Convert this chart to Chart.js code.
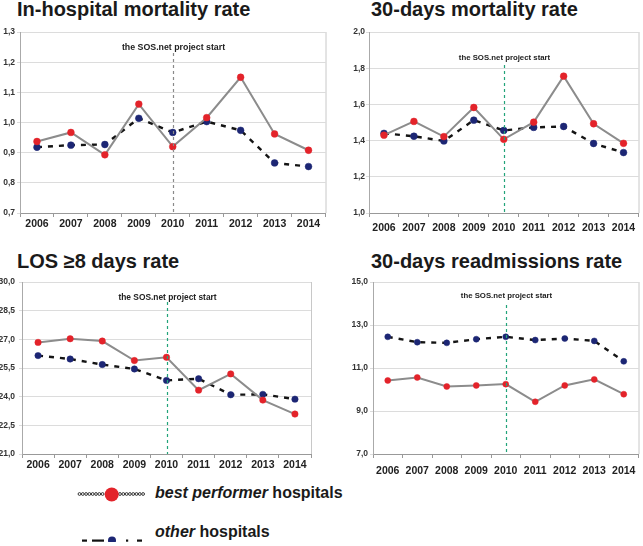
<!DOCTYPE html>
<html>
<head>
<meta charset="utf-8">
<script src="https://cdn.jsdelivr.net/npm/chart.js@4"></script>
<style>
  body { margin: 0; background: #fff; font-family: "Liberation Sans", Arial, sans-serif; }
  #page { position: relative; width: 643px; height: 546px; overflow: hidden; }
  canvas { position: absolute; }
  .title { position: absolute; font-weight: bold; font-size: 20px; line-height: 20px; color: #1a1a1a; white-space: nowrap; }
  .leg { position: absolute; font-weight: bold; font-size: 16px; line-height: 16px; color: #1a1a1a; white-space: nowrap; }
  svg { position: absolute; }
</style>
</head>
<body>
<div id="page">
  <div class="title" style="left:17px;top:-1px">In-hospital mortality rate</div>
  <div class="title" style="left:371px;top:-1px">30-days mortality rate</div>
  <div class="title" style="left:17px;top:251px">LOS ≥8 days rate</div>
  <div class="title" style="left:371px;top:251px">30-days readmissions rate</div>

  <canvas id="c1" width="330" height="225" style="left:0;top:20px"></canvas>
  <canvas id="c2" width="313" height="225" style="left:330px;top:20px"></canvas>
  <canvas id="c3" width="322" height="210" style="left:0;top:272px"></canvas>
  <canvas id="c4" width="313" height="210" style="left:330px;top:272px"></canvas>

  <svg width="80" height="60" style="left:70px;top:482px">
    <g fill="#fff" stroke="#222" stroke-width="0.9">
      <circle cx="9.5" cy="12" r="1.4"/><circle cx="12.8" cy="12" r="1.4"/><circle cx="16.1" cy="12" r="1.4"/>
      <circle cx="19.4" cy="12" r="1.4"/><circle cx="22.7" cy="12" r="1.4"/><circle cx="26" cy="12" r="1.4"/>
      <circle cx="29.3" cy="12" r="1.4"/><circle cx="32.6" cy="12" r="1.4"/>
      <circle cx="50" cy="12" r="1.4"/><circle cx="53.3" cy="12" r="1.4"/><circle cx="56.6" cy="12" r="1.4"/>
      <circle cx="59.9" cy="12" r="1.4"/><circle cx="63.2" cy="12" r="1.4"/><circle cx="66.5" cy="12" r="1.4"/>
      <circle cx="69.8" cy="12" r="1.4"/><circle cx="73.1" cy="12" r="1.4"/>
    </g>
    <circle cx="41.7" cy="12.5" r="7" fill="#e3232a"/>
    <g fill="#111">
      <rect x="12" y="57.5" width="5" height="2.2"/>
      <rect x="22" y="57.5" width="12" height="2.2"/>
      <rect x="56" y="57.5" width="2.2" height="2.2"/>
      <rect x="67" y="57.5" width="5" height="2.2"/>
    </g>
    <circle cx="42" cy="58.5" r="4" fill="#1c2674"/>
  </svg>
  <div class="leg" style="left:155px;top:485px"><i>best performer</i> hospitals</div>
  <div class="leg" style="left:155px;top:524px"><i>other</i> hospitals</div>
</div>

<script>
const years = ["2006", "2007", "2008", "2009", "2010", "2011", "2012", "2013", "2014"];
const projectStart = "2010";
const projectLabel = "the SOS.net project start";

const inhospBest = [0.937, 0.967, 0.893, 1.061, 0.920, 1.016, 1.150, 0.962, 0.908];
const inhospOther = [0.918, 0.925, 0.927, 1.014, 0.967, 1.003, 0.974, 0.866, 0.854];
const inhospTicks = [0.7, 0.8, 0.9, 1.0, 1.1, 1.2, 1.3];

const mort30Best = [1.430, 1.506, 1.422, 1.583, 1.407, 1.502, 1.756, 1.493, 1.385];
const mort30Other = [1.440, 1.424, 1.398, 1.513, 1.456, 1.473, 1.478, 1.384, 1.334];
const mort30Ticks = [1.0, 1.2, 1.4, 1.6, 1.8, 2.0];

const losBest = [26.84, 27.03, 26.91, 25.89, 26.06, 24.34, 25.19, 23.82, 23.09];
const losOther = [26.15, 25.97, 25.68, 25.45, 24.85, 24.94, 24.10, 24.12, 23.87];
const losTicks = [21.0, 22.5, 24.0, 25.5, 27.0, 28.5, 30.0];

const readmBest = [10.42, 10.56, 10.14, 10.19, 10.25, 9.43, 10.19, 10.47, 9.78];
const readmOther = [12.45, 12.20, 12.17, 12.34, 12.45, 12.30, 12.37, 12.26, 11.31];
const readmTicks = [7.0, 9.0, 11.0, 13.0, 15.0];

const FONT = '"Liberation Sans", Arial, sans-serif';

// per-chart marker settings, looked up by canvas id
const markerStyle = {
  c1: { stroke: "#8a8a8a", size: 8.8, textY: 16, lineFrom: 21 },
  c2: { stroke: "#22a37a", size: 7.8, textY: 25.7, lineFrom: 33 },
  c3: { stroke: "#22a37a", size: 8.4, textY: 16, lineFrom: 20 },
  c4: { stroke: "#22a37a", size: 7.8, textY: 14, lineFrom: 23 },
};

// dashed start-of-project marker + right frame line
const startLine = {
  id: "startLine",
  afterDatasetsDraw(chart) {
    const o = markerStyle[chart.canvas.id];
    const { ctx, chartArea: a, scales } = chart;
    const x = Math.round(scales.x.getPixelForValue(years.indexOf(projectStart))) + 0.5;
    ctx.save();
    ctx.strokeStyle = "#c8c8c8";
    ctx.lineWidth = 1;
    ctx.beginPath();
    ctx.moveTo(a.right + 0.5, a.top);
    ctx.lineTo(a.right + 0.5, a.bottom);
    ctx.stroke();

    ctx.strokeStyle = o.stroke;
    ctx.lineWidth = 1.2;
    ctx.setLineDash([3, 3]);
    ctx.beginPath();
    ctx.moveTo(x, a.top + o.lineFrom);
    ctx.lineTo(x, a.bottom);
    ctx.stroke();
    ctx.setLineDash([]);

    ctx.fillStyle = "#222";
    ctx.font = `bold ${o.size}px ${FONT}`;
    ctx.textAlign = "center";
    ctx.textBaseline = "middle";
    ctx.fillText(projectLabel, x, a.top + o.textY);
    ctx.restore();
  },
};

function fmtComma(v) {
  return v.toFixed(1).replace(".", ",");
}

function makeChart(id, best, other, ticks, p) {
  return new Chart(document.getElementById(id), {
    type: "line",
    data: {
      labels: years,
      datasets: [
        {
          label: "best performer hospitals",
          data: best,
          borderColor: "#8c8c8c",
          borderWidth: 2,
          pointBackgroundColor: "#e3232a",
          pointBorderColor: "#e3232a",
          pointBorderWidth: 0.5,
          pointRadius: p.r,
          tension: 0,
        },
        {
          label: "other hospitals",
          data: other,
          borderColor: "#141414",
          borderWidth: 2.4,
          borderDash: [5, 6],
          pointBackgroundColor: "#1c2674",
          pointBorderColor: "#1c2674",
          pointBorderWidth: 0.5,
          pointRadius: p.r,
          tension: 0,
        },
      ],
    },
    options: {
      responsive: false,
      animation: false,
      devicePixelRatio: 1,
      layout: { padding: { top: p.top, right: p.right, left: 0, bottom: 0 } },
      plugins: {
        legend: { display: false },
        tooltip: { enabled: false },
      },
      scales: {
        x: {
          offset: true,
          grid: { drawOnChartArea: false, offset: true, tickLength: 4, color: "#999" },
          border: { color: "#999" },
          ticks: { color: "#222", padding: p.xPad, font: { family: FONT, size: 10.5, weight: "bold" }, maxRotation: 0, autoSkip: false },
          afterFit: (s) => { s.height = p.xh; },
        },
        y: {
          min: ticks[0],
          max: ticks[ticks.length - 1],
          afterBuildTicks: (s) => { s.ticks = ticks.map((v) => ({ value: v })); },
          grid: { color: "#dcdcdc", tickLength: 3 },
          border: { color: "#aaa" },
          ticks: { color: "#333", padding: p.yPad, font: { family: FONT, size: 8.5, weight: "bold" }, callback: (v) => fmtComma(v) },
          afterFit: (s) => { s.width = p.yw; },
        },
      },
    },
    plugins: [startLine],
  });
}

makeChart("c1", inhospBest, inhospOther, inhospTicks, { top: 12, right: 4, yw: 20, xh: 32, xPad: 1, yPad: 2, r: 3.4 });
makeChart("c2", mort30Best, mort30Other, mort30Ticks, { top: 12, right: 2, yw: 39, xh: 32, xPad: 5, yPad: 1, r: 3.4 });
makeChart("c3", losBest, losOther, losTicks, { top: 10, right: 11, yw: 22, xh: 28, xPad: 1, yPad: 4, r: 3.2 });
makeChart("c4", readmBest, readmOther, readmTicks, { top: 10, right: 2, yw: 43, xh: 28, xPad: 7, yPad: 2, r: 3 });
</script>
</body>
</html>
